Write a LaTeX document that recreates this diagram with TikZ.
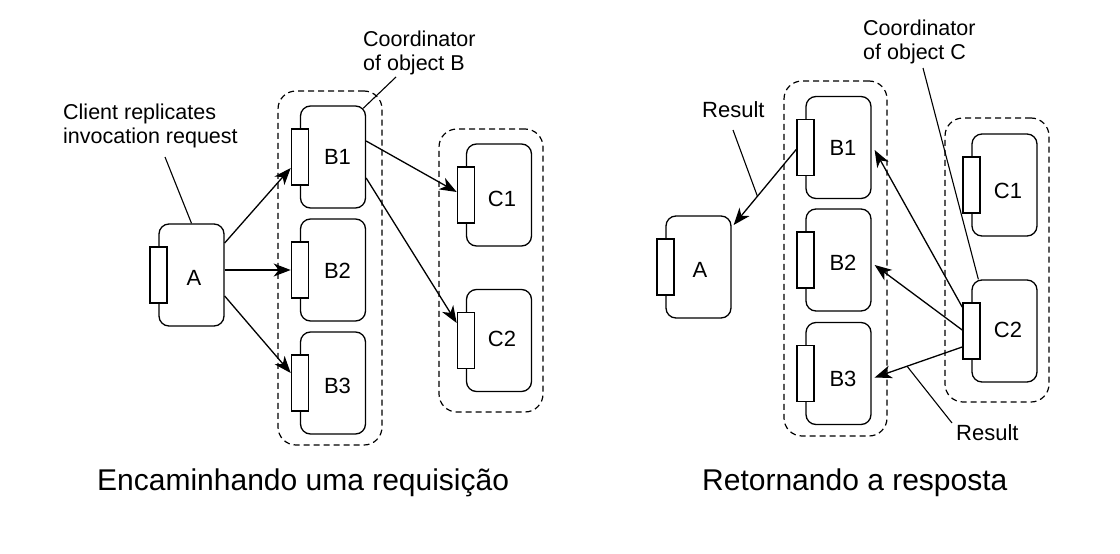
\documentclass[tikz,border=0pt]{standalone}
\usepackage{fontspec}
\setmainfont{Liberation Sans}
\usetikzlibrary{arrows.meta,calc}
\begin{document}
\begin{tikzpicture}[x=1pt,y=-1pt,
  obj/.style={draw, line width=1.3pt, rounded corners=10pt, minimum width=65pt, minimum height=102pt, inner sep=0pt},
  port/.style={draw, fill=white, line width=1.3pt, minimum width=17pt, minimum height=56pt, inner sep=0pt},
  grp/.style={draw, line width=1.2pt, dash pattern=on 6pt off 4pt, rounded corners=18pt, inner sep=0pt, minimum width=104pt},
  lbl/.style={font=\fontsize{22}{25}\selectfont, inner sep=0pt},
  txt/.style={font=\fontsize{21.5}{24}\selectfont, inner sep=0pt, align=left, anchor=base west},
  captxt/.style={font=\fontsize{30}{36}\selectfont, inner sep=0pt, anchor=base west},
  arr/.style={line width=1.3pt, -{Stealth[length=17pt,width=13pt,inset=5pt]}},
  lead/.style={line width=1.1pt}]
\useasboundingbox (0,0) rectangle (1120,554);

% ---------- left diagram ----------
\node[grp, minimum height=354pt] (Bg) at (330,268) {};
\node[grp, minimum height=283pt] (Cg) at (491,270.5) {};

\node[obj] (A) at (191.5,275) {};
\node[port] (Ap) at (A.west) {};
\node[lbl] (At) at (194,278) {A};

\node[obj] (B1) at (333,157) {};
\node[port] (B1p) at (B1.west) {};
\node[lbl] (B1t) at (337.5,157) {B1};
\node[obj] (B2) at (333,270) {};
\node[port] (B2p) at (B2.west) {};
\node[lbl] (B2t) at (337.5,271) {B2};
\node[obj] (B3) at (333,383) {};
\node[port] (B3p) at (B3.west) {};
\node[lbl] (B3t) at (337.5,386) {B3};

\node[obj] (C1) at (499,195) {};
\node[port] (C1p) at (C1.west) {};
\node[lbl] (C1t) at (502,199) {C1};
\node[obj] (C2) at (499,340.5) {};
\node[port] (C2p) at (C2.west) {};
\node[lbl] (C2t) at (502,339) {C2};

\draw[arr] ($(A.east)+(0,-32)$) -- ($(B1p.west)+(0,11)$);
\draw[arr] ($(A.east)+(0,-5)$) -- (B2p.west);
\draw[arr] ($(A.east)+(0,21)$) -- ($(B3p.west)+(0,-10)$);
\draw[arr] ($(B1.east)+(0,-16)$) -- ($(C1p.west)+(0,-3)$);
\draw[arr] ($(B1.east)+(0,21)$) -- ($(C2p.west)+(0,-17.5)$);

\node[txt] (cl) at (63,143) {Client replicates\\invocation request};
\node[txt] (cb) at (363,70) {Coordinator\\of object B};
\coordinate (clT) at (165,157);
\draw[lead] (clT) -- (A.north);
\coordinate (cbT) at (396,77);
\draw[lead] (cbT) -- ($(B1.north east)+(-3,3)$);

\node[captxt] (cap1) at (97,490) {Encaminhando uma requisição};

% ---------- right diagram ----------
\node[grp, minimum height=355pt, minimum width=103pt] (rBg) at (835.5,258.5) {};
\node[grp, minimum height=284pt] (rCg) at (997,260) {};

\node[obj] (rA) at (698.5,267) {};
\node[port] (rAp) at (rA.west) {};
\node[lbl] (rAt) at (700,270) {A};

\node[obj] (rB1) at (838.5,147.5) {};
\node[port] (rB1p) at (rB1.west) {};
\node[lbl] (rB1t) at (843,148) {B1};
\node[obj] (rB2) at (838.5,260) {};
\node[port] (rB2p) at (rB2.west) {};
\node[lbl] (rB2t) at (843,263) {B2};
\node[obj] (rB3) at (838.5,373.5) {};
\node[port] (rB3p) at (rB3.west) {};
\node[lbl] (rB3t) at (843,379) {B3};

\node[obj] (rC1) at (1004.5,185) {};
\node[port] (rC1p) at (rC1.west) {};
\node[lbl] (rC1t) at (1008,191) {C1};
\node[obj] (rC2) at (1004.5,331) {};
\node[port] (rC2p) at (rC2.west) {};
\node[lbl] (rC2t) at (1008,330) {C2};

\draw[arr] ($(rB1p.west)+(0,2)$) -- coordinate[pos=0.62] (m1) ($(rA.east)+(2,-42)$);
\draw[arr] ($(rC2p.west)+(0,-24)$) -- ($(rB1.east)+(3,2.5)$);
\draw[arr] ($(rC2p.west)+(0,-1)$) -- ($(rB2.east)+(3,5)$);
\draw[arr] ($(rC2p.west)+(0,16)$) -- coordinate[pos=0.63] (m2) ($(rB3.east)+(3,4)$);

\node[txt] (cc) at (863,59) {Coordinator\\of object C};
\node[lbl, anchor=base west] (r1) at (702,117.3) {Result};
\node[lbl, anchor=base west] (r2) at (956,440) {Result};
\coordinate (ccT) at (923,68);
\draw[lead] (ccT) -- ($(rC2.north west)+(7,0)$);
\coordinate (r1T) at (733,130);
\draw[lead] (r1T) -- (m1);
\coordinate (r2T) at (952,423);
\draw[lead] (r2T) -- (m2);

\node[captxt] (cap2) at (702,490) {Retornando a resposta};
\end{tikzpicture}
\end{document}
